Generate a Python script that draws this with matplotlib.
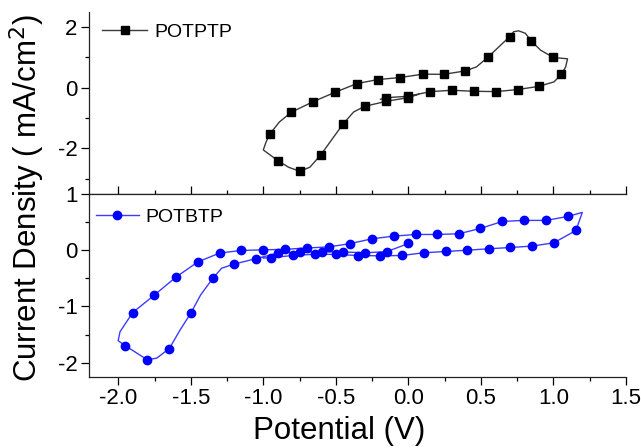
import matplotlib
import matplotlib.pyplot as plt
from matplotlib.ticker import MultipleLocator

matplotlib.use("Agg")

plt.rcParams["font.family"] = ["Liberation Sans", "DejaVu Sans"]
plt.rcParams["axes.unicode_minus"] = False

# POTPTP cyclic voltammogram (traced path, 1 = square marker drawn)
ptp_v = [-0.192, -0.152, -0.003, 0.152, 0.301, 0.452, 0.603, 0.754, 0.902, 1.005,
         1.056, 1.085, 1.098, 1.000, 0.912, 0.847, 0.807, 0.761, 0.726, 0.698,
         0.547, 0.470, 0.394, 0.245, 0.099, -0.057, -0.208, -0.354, -0.505, -0.656,
         -0.807, -0.889, -0.954, -0.981, -1.000, -0.900, -0.826, -0.749, -0.679, -0.603,
         -0.452, -0.377, -0.301, -0.152, -0.003, 0.070]
ptp_j = [-0.384, -0.330, -0.285, -0.130, -0.087, -0.120, -0.130, -0.064, 0.045, 0.190,
         0.440, 0.680, 0.950, 0.993, 1.235, 1.540, 1.790, 1.870, 1.840, 1.674,
         0.993, 0.683, 0.551, 0.440, 0.442, 0.333, 0.267, 0.135, -0.153, -0.460,
         -0.810, -1.130, -1.520, -1.790, -2.050, -2.400, -2.620, -2.750, -2.620, -2.210,
         -1.210, -0.800, -0.615, -0.450, -0.330, -0.220]
ptp_mark = [0, 1, 1, 1, 1, 1, 1, 1, 1, 0,
            1, 0, 0, 1, 0, 1, 0, 0, 0, 1,
            1, 0, 1, 1, 1, 1, 1, 1, 1, 1,
            1, 0, 1, 0, 0, 1, 0, 1, 0, 1,
            1, 0, 1, 1, 1, 0]

# POTBTP cyclic voltammogram (traced path, 1 = circle marker drawn)
btp_v = [0.001, -0.148, -0.297, -0.449, -0.598, -0.749, -0.901, -1.050, -1.199, -1.287,
         -1.348, -1.432, -1.499, -1.574, -1.648, -1.735, -1.800, -1.951, -2.001, -1.988,
         -1.901, -1.752, -1.603, -1.452, -1.301, -1.152, -1.000, -0.848, -0.699, -0.550,
         -0.401, -0.250, -0.101, 0.050, 0.199, 0.348, 0.497, 0.649, 0.801, 0.950,
         1.099, 1.200, 1.156, 1.004, 0.855, 0.703, 0.554, 0.406, 0.257, 0.105,
         -0.044, -0.195, -0.344, -0.496, -0.645, -0.797, -0.946, -1.000]
btp_j = [0.120, -0.026, -0.045, -0.032, -0.028, -0.032, -0.053, -0.150, -0.245, -0.320,
         -0.500, -0.795, -1.116, -1.420, -1.750, -1.920, -1.950, -1.700, -1.610, -1.450,
         -1.110, -0.800, -0.480, -0.210, -0.050, -0.005, 0.007, 0.015, 0.040, 0.058,
         0.117, 0.203, 0.250, 0.280, 0.280, 0.292, 0.387, 0.512, 0.530, 0.530,
         0.600, 0.672, 0.351, 0.132, 0.073, 0.048, 0.025, 0.000, -0.023, -0.046,
         -0.094, -0.100, -0.095, -0.075, -0.072, -0.094, -0.133, -0.140]
btp_mark = [1, 1, 1, 1, 1, 1, 1, 1, 1, 0,
            1, 0, 1, 0, 1, 0, 1, 1, 0, 0,
            1, 1, 1, 1, 1, 1, 1, 1, 1, 1,
            1, 1, 1, 1, 1, 1, 1, 1, 1, 1,
            1, 0, 1, 1, 1, 1, 1, 1, 1, 1,
            1, 1, 1, 1, 1, 1, 1, 0]

x_ticks = [-2.0, -1.5, -1.0, -0.5, 0.0, 0.5, 1.0, 1.5]


def style_axis(ax, ylim, ymajor):
    ax.set_xlim(-2.2, 1.5)
    ax.set_ylim(*ylim)
    ax.xaxis.set_major_locator(MultipleLocator(0.5))
    ax.xaxis.set_minor_locator(MultipleLocator(0.25))
    ax.yaxis.set_major_locator(MultipleLocator(ymajor))
    ax.yaxis.set_minor_locator(MultipleLocator(ymajor / 2))
    ax.spines["right"].set_visible(False)
    for s in ax.spines.values():
        s.set_linewidth(0.9)
        s.set_color("#222222")
    ax.tick_params(which="major", length=5.5, width=0.9, labelsize=16, pad=3)
    ax.tick_params(which="minor", length=3, width=0.9)


def marks(flags):
    return [i for i, m in enumerate(flags) if m]


fig = plt.figure(figsize=(6.41, 4.48), dpi=100)
ax_top = fig.add_axes([0.1393, 0.5670, 0.8370, 0.4069])
ax_bot = fig.add_axes([0.1393, 0.1592, 0.8370, 0.4078])

style_axis(ax_top, (-3.5, 2.5), 2)
ax_top.spines["top"].set_visible(False)
ax_top.tick_params(axis="x", which="both", direction="in", labelbottom=False)
ax_top.plot(ptp_v, ptp_j, color="#3a3a3a", lw=1.0, marker="s", ms=5.5,
            mfc="black", mec="black", markevery=marks(ptp_mark), label="POTPTP")
ax_top.legend(loc="center left", bbox_to_anchor=(0.024, 0.888), frameon=False,
              fontsize=14, borderpad=0, borderaxespad=0,
              handlelength=2.3, handletextpad=0.4)

style_axis(ax_bot, (-2.25, 1), 1)
ax_bot.tick_params(axis="x", which="both", top=False)
ax_bot.set_xticks(x_ticks)
ax_bot.set_xticklabels(["%.1f" % t for t in x_ticks])
ax_bot.plot(btp_v, btp_j, color="#3c3cff", lw=1.0, marker="o", ms=6,
            mfc="#0000ff", mec="#0000ff", markevery=marks(btp_mark), label="POTBTP")
ax_bot.legend(loc="center left", bbox_to_anchor=(0.012, 0.874), frameon=False,
              fontsize=14, borderpad=0, borderaxespad=0,
              handlelength=2.2, handletextpad=0.35)

fig.text(0.042, 0.558, "Current Density ( mA/cm$^2$)", rotation=90,
         ha="center", va="center", fontsize=22.5)
fig.text(0.529, 0.038, "Potential (V)", ha="center", va="center", fontsize=22.5)

fig.savefig("out.png", dpi=100)
